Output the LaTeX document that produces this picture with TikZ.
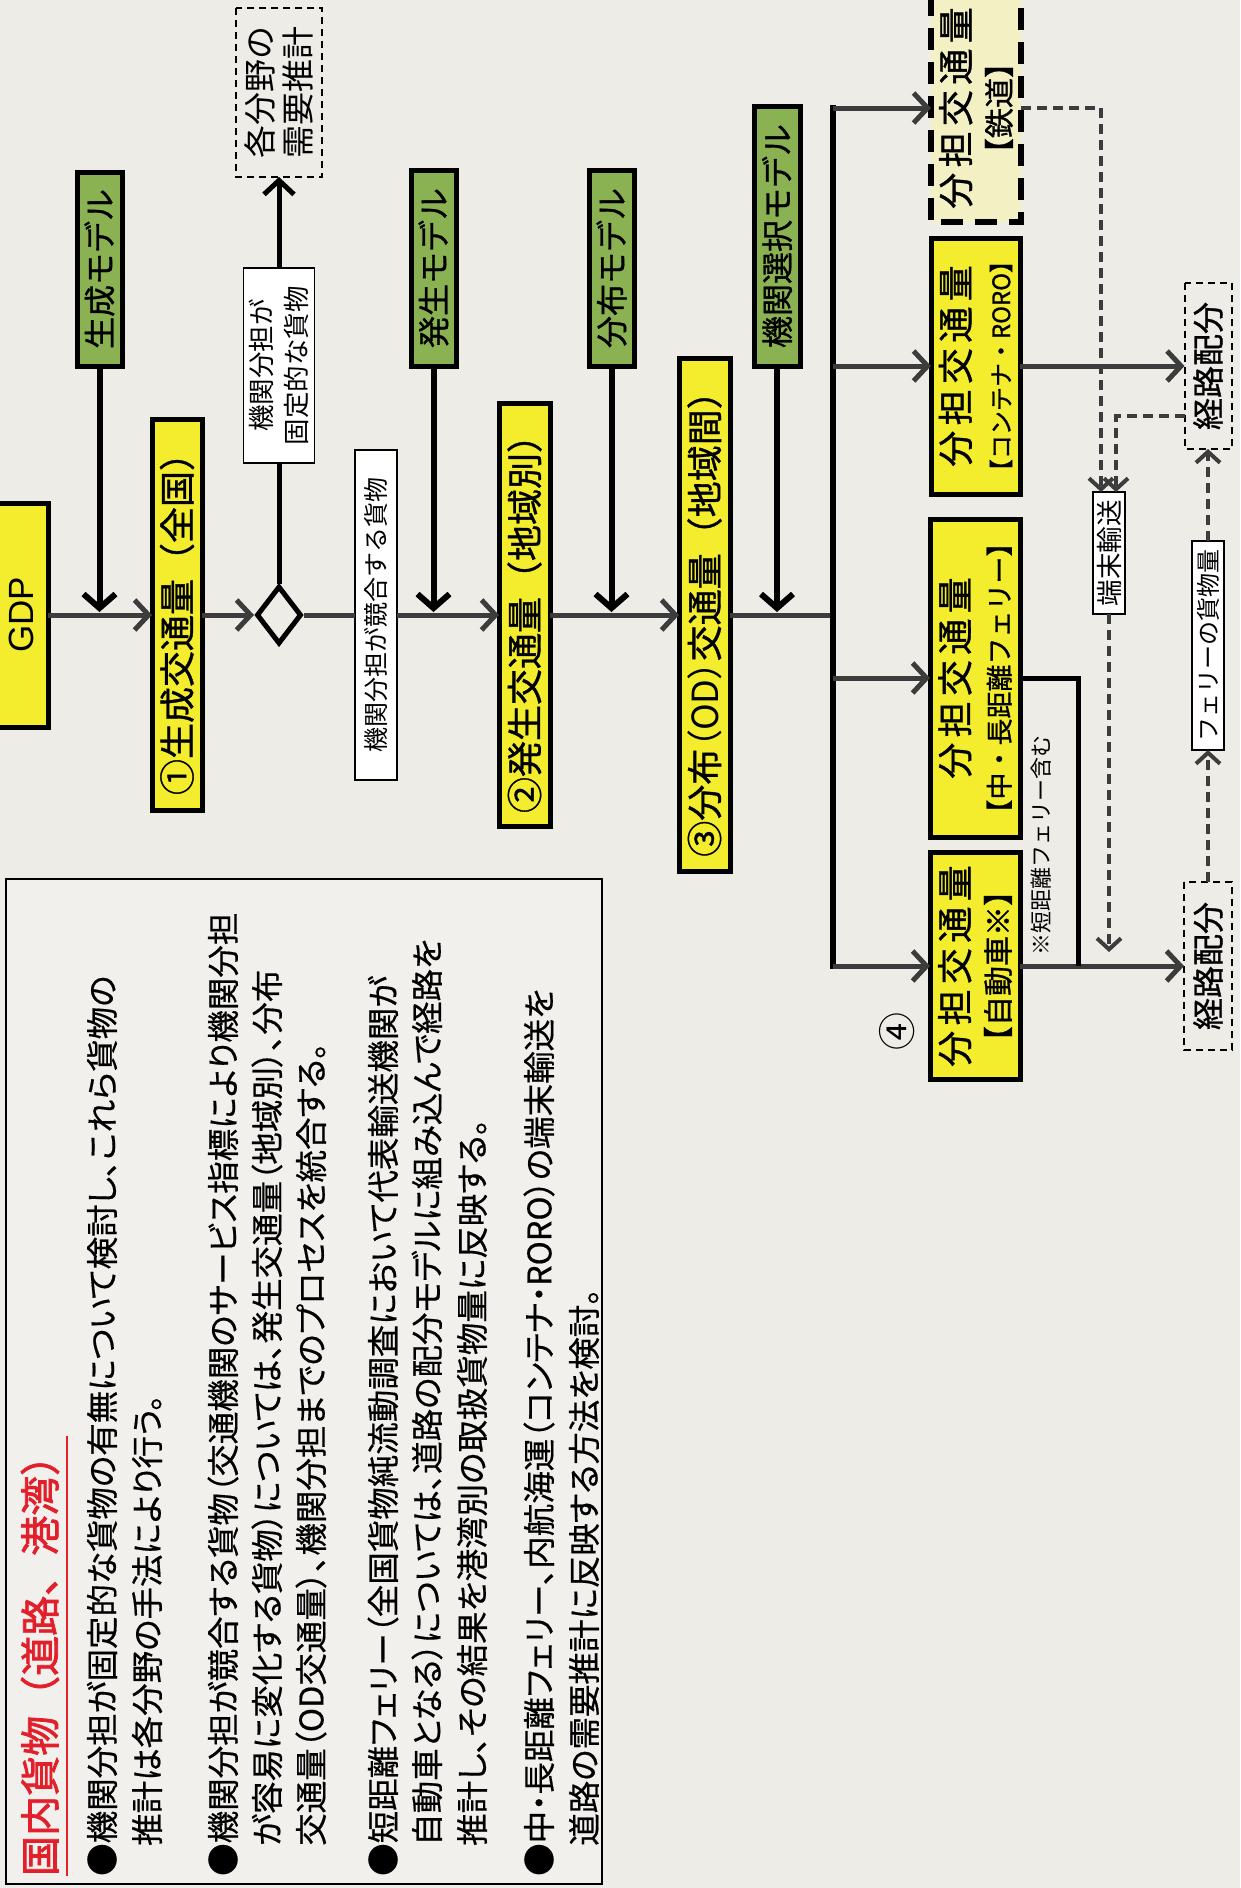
\documentclass[tikz,border=0pt]{standalone}
\usepackage{fontspec}
\setmainfont{Noto Sans CJK JP}
\newfontfamily\jpb[FakeBold=1]{Noto Sans CJK JP}
\newfontfamily\jpsp[FakeBold=1,LetterSpace=15]{Noto Sans CJK JP}
\newfontfamily\jptitle[FakeBold=2]{Noto Sans CJK JP}
\newfontfamily\jpp[RawFeature=+palt]{Noto Sans CJK JP}
\newfontfamily\jpbody[RawFeature=+palt,FakeBold=0.5]{Noto Sans CJK JP}
\newfontfamily\latinsans{Liberation Sans}
\usetikzlibrary{arrows.meta,shapes.geometric}
\definecolor{cbg}{RGB}{237,236,231}
\definecolor{cpanel}{RGB}{241,240,236}
\definecolor{cyel}{RGB}{243,237,45}
\definecolor{cgrn}{RGB}{139,178,82}
\definecolor{crail}{RGB}{243,240,196}
\definecolor{cline}{RGB}{60,60,60}
\definecolor{cred}{RGB}{226,32,44}
\tikzset{
  lab/.style={rotate=90, inner sep=0pt, outer sep=0pt, align=center},
  ybox/.style={lab, draw=black, line width=5pt, fill=cyel, font=\jpb\fontsize{36}{41}\selectfont},
  gbox/.style={lab, draw=black, line width=5pt, fill=cgrn, font=\jpb\fontsize{32}{36}\selectfont},
  wbox/.style={lab, draw=black, line width=1.8pt, fill=white, font=\fontsize{25}{35}\selectfont},
  dbox/.style={lab, draw=black, line width=2pt, dash pattern=on 7pt off 5pt},
  railbox/.style={lab, draw=black, line width=6pt, dash pattern=on 22pt off 12pt, fill=crail, font=\jpb\fontsize{36}{41}\selectfont},
  txt/.style={rotate=90, inner sep=0pt, anchor=west, font=\jpbody\fontsize{32.5}{35}\selectfont},
  flow/.style={draw=cline, line width=5pt, -{Straight Barb[length=14pt,width=30pt]}},
  solidline/.style={draw=cline, line width=5pt},
  blackline/.style={draw=black, line width=5pt},
  blackarrow/.style={draw=black, line width=5pt, -{Straight Barb[length=14pt,width=30pt]}},
  garrow/.style={draw=black, line width=6pt, -{Straight Barb[length=14pt,width=32pt]}, shorten >=3pt},
  busline/.style={draw=black, line width=6pt, line cap=rect},
  darrow/.style={draw=cline, line width=4pt, dash pattern=on 10pt off 6pt, -{Straight Barb[length=11pt,width=24pt]}},
}
\newcommand{\lineone}{{\jpsp\fontsize{36}{41}\selectfont 分担交通量}}
\begin{document}
\begin{tikzpicture}[x=1pt,y=1pt]
\useasboundingbox (0,0) rectangle (1240,-1888);
\clip (0,0) rectangle (1240,-1888);
\fill[cbg] (0,0) rectangle (1240,-1888);

% explanation panel
\node[draw=black, line width=1.5pt, fill=cpanel, inner sep=0pt, minimum width=596pt, minimum height=1005pt] (tbox) at (304,-1381.5) {};
\node[txt, text=cred, font=\jptitle\fontsize{40}{44}\selectfont] (title) at (40,-1876) {国内貨物（道路、港湾）};
\draw[cred, line width=2.5pt] ([xshift=8pt]title.south west) -- ([xshift=8pt]title.south east);
\node[txt] (t1) at (102,-1876) {●機関分担が固定的な貨物の有無について検討し、これら貨物の};
\node[txt] (t2) at (147,-1846) {推計は各分野の手法により行う。};
\node[txt] (t3) at (223,-1876) {●機関分担が競合する貨物（交通機関のサービス指標により機関分担};
\node[txt] (t4) at (267,-1846) {が容易に変化する貨物）については、発生交通量（地域別）、分布};
\node[txt] (t5) at (311,-1846) {交通量（OD交通量）、機関分担までのプロセスを統合する。};
\node[txt] (t6) at (383,-1876) {●短距離フェリー（全国貨物純流動調査において代表輸送機関が};
\node[txt] (t7) at (427,-1846) {自動車となる）については、道路の配分モデルに組み込んで経路を};
\node[txt] (t8) at (472,-1846) {推計し、その結果を港湾別の取扱貨物量に反映する。};
\node[txt] (t9) at (539,-1876) {●中・長距離フェリー、内航海運（コンテナ・RORO）の端末輸送を};
\node[txt] (t10) at (584,-1846) {道路の需要推計に反映する方法を検討。};

% main flow
\node[ybox, minimum width=224pt, minimum height=54pt, font=\latinsans\fontsize{35}{40}\selectfont] (gdp) at (21,-615) {GDP};
\node[ybox, minimum width=391pt, minimum height=50pt] (s1) at (177,-615) {①生成交通量（全国）};
\node[draw=black, line width=5pt, diamond, minimum width=45pt, minimum height=58pt, inner sep=0pt] (dia) at (279,-615) {};
\node[wbox, minimum width=330pt, minimum height=42pt] (kyogo) at (376,-615) {機関分担が競合する貨物};
\node[ybox, minimum width=423pt, minimum height=51pt] (s2) at (524.5,-615) {②発生交通量（地域別）};
\node[ybox, minimum width=513pt, minimum height=51pt] (s3) at (704.5,-615) {③分布{\jpp（OD）}交通量（地域間）};
\coordinate (bus) at (833,-615);

% models
\node[gbox, minimum width=194pt, minimum height=45pt] (g1) at (99.5,-269) {生成モデル};
\node[gbox, minimum width=196pt, minimum height=45pt] (g2) at (433.5,-268) {発生モデル};
\node[gbox, minimum width=196pt, minimum height=45pt] (g3) at (611.5,-268) {分布モデル};
\node[gbox, minimum width=260pt, minimum height=46pt] (g4) at (777,-236) {機関選択モデル};

% fixed branch
\node[wbox, minimum width=195pt, minimum height=71pt, font=\fontsize{26.5}{35}\selectfont] (kotei) at (279,-365.5) {機関分担が\\固定的な貨物};
\node[dbox, minimum width=169pt, minimum height=86pt, font=\fontsize{33}{38}\selectfont] (kaku) at (279,-92.5) {各分野の\\需要推計};

% modal split boxes
\node[railbox, minimum width=228pt, minimum height=90pt] (rail) at (976,-108) {\lineone\\{\jpb\fontsize{30}{41}\selectfont 【鉄道】}};
\node[ybox, minimum width=256pt, minimum height=89pt] (roro) at (975.5,-366) {\lineone\\{\fontsize{24}{41}\selectfont 【コンテナ・RORO】}};
\node[ybox, minimum width=318pt, minimum height=90pt] (ferry) at (975,-678) {\lineone\\{\fontsize{27}{41}\selectfont 【中・長距離フェリー】}};
\node[ybox, minimum width=227pt, minimum height=90pt] (car) at (975,-966) {\lineone\\{\fontsize{30}{41}\selectfont 【自動車※】}};
\node[lab, font=\fontsize{38}{40}\selectfont] (four) at (897,-1031) {④};
\node[lab, font=\fontsize{22}{26}\selectfont] (note) at (1041,-845) {※短距離フェリー含む};

% route assignment
\node[dbox, minimum width=166pt, minimum height=47pt, font=\jpb\fontsize{32}{36}\selectfont] (keiro1) at (1208,-366) {経路配分};
\node[dbox, minimum width=168pt, minimum height=48pt, font=\jpb\fontsize{32}{36}\selectfont] (keiro2) at (1208,-966) {経路配分};
\node[wbox, minimum width=122pt, minimum height=32pt, font=\fontsize{26.5}{30}\selectfont] (tan) at (1109,-553) {端末輸送};
\node[wbox, minimum width=209pt, minimum height=32pt, font=\fontsize{24}{28}\selectfont] (fvol) at (1208,-645.5) {フェリーの貨物量};
\coordinate (fj) at (1078,-966);
\coordinate (tanend) at (1109,-952);

% connectors: main flow
\draw[flow] (gdp) -- (s1);
\draw[flow] (s1) -- (dia);
\draw[solidline] (dia) -- (kyogo);
\draw[flow] (kyogo) -- (s2);
\draw[flow] (s2) -- (s3);
\draw[solidline] (s3) -- (bus);
\draw[blackline] (dia) -- (kotei);
\draw[blackarrow] (kotei) -- (kaku);
\draw[garrow] (g1) -- (g1 |- gdp);
\draw[garrow] (g2) -- (g2 |- gdp);
\draw[garrow] (g3) -- (g3 |- gdp);
\draw[garrow] (g4) -- (g4 |- gdp);

% bus and branches
\draw[busline] (rail -| bus) -- (car -| bus);
\draw[flow] (rail -| bus) -- (rail);
\draw[flow] (roro -| bus) -- (roro);
\draw[flow] (ferry -| bus) -- (ferry);
\draw[flow] (car -| bus) -- (car);

% to route assignment
\draw[flow] (roro) -- (keiro1);
\draw[flow] (car) -- (keiro2);
\draw[blackline] (ferry) -| (fj);

% dashed
\draw[darrow] (rail) -| ([xshift=-8pt]tan.east);
\draw[darrow] ([yshift=-50pt]keiro1.north) -| ([xshift=7pt]tan.east);
\draw[darrow] (tan) -- (tanend);
\draw[darrow] (keiro2) -- (fvol);
\draw[darrow] (fvol) -- (keiro1);
\end{tikzpicture}
\end{document}
